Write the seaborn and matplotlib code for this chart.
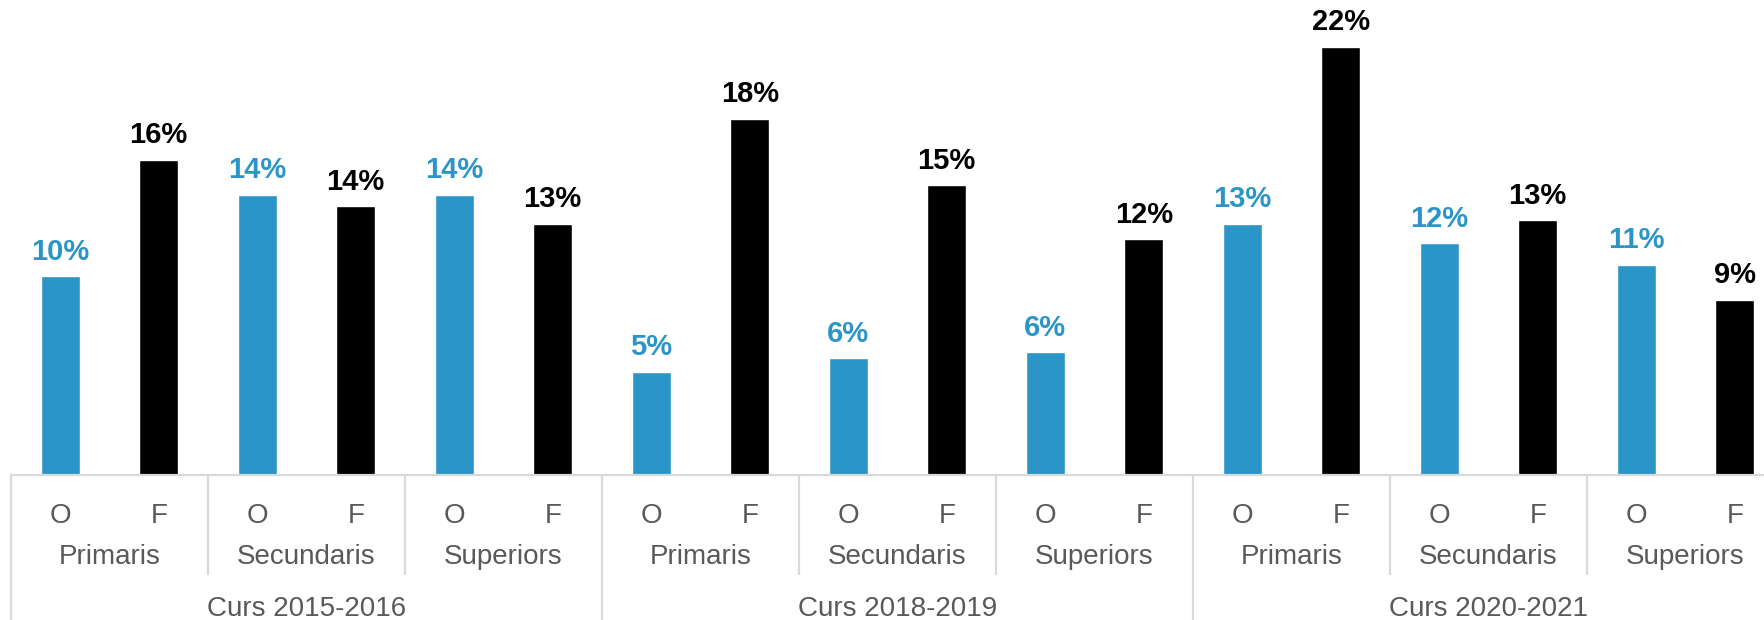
import matplotlib
matplotlib.use("Agg")
import matplotlib.pyplot as plt
import matplotlib.transforms as mtransforms
import numpy as np
import pandas as pd
import seaborn as sns

# ---- data ----
courses = ["Curs 2015-2016", "Curs 2018-2019", "Curs 2020-2021"]
levels = ["Primaris", "Secundaris", "Superiors"]
genders = ["O", "F"]
values_O = [10.2, 14.4, 14.4, 5.3, 6.0, 6.3, 12.9, 11.9, 10.8]
values_F = [16.2, 13.8, 12.9, 18.3, 14.9, 12.1, 22.0, 13.1, 9.0]

BLUE = "#2C95C7"
BLACK = "#000000"
GRAY = "#595959"
LINE = "#D9D9D9"

rows = []
k = 0
for c in courses:
    for l in levels:
        for g, vals in zip(genders, (values_O, values_F)):
            rows.append({"key": f"{c}|{l}|{g}", "course": c, "level": l,
                         "gender": g, "value": vals[k]})
        k += 1
df = pd.DataFrame(rows)
keys = list(df["key"])

sns.set_theme(style="white")
plt.rcParams["font.family"] = ["Liberation Sans", "DejaVu Sans"]

W, H = 1764, 620
fig = plt.figure(figsize=(W / 100, H / 100), dpi=100)
base_px = 145          # baseline height above figure bottom
ax_h_px = H - base_px
ax = fig.add_axes([11 / W, base_px / H, 1773 / W, ax_h_px / H])

sns.barplot(data=df, x="key", y="value", hue="gender", hue_order=genders,
            order=keys, palette={"O": BLUE, "F": BLACK}, dodge=False,
            width=0.4, saturation=1, legend=False, ax=ax)

ax.set_xlim(-0.5, len(keys) - 0.5)
ax.set_ylim(0, 24.4)

# value labels above bars
for container, g in zip(ax.containers, genders):
    ax.bar_label(container,
                 labels=[f"{v:.0f}%" for v in container.datavalues],
                 padding=7.5, fontsize=21, fontweight="bold",
                 color=BLUE if g == "O" else BLACK)

# axes styling
for s in ("left", "top", "right"):
    ax.spines[s].set_visible(False)
ax.spines["bottom"].set_color(LINE)
ax.spines["bottom"].set_linewidth(1.6)
ax.set_xticks([])
ax.set_yticks([])
ax.set_xlabel("")
ax.set_ylabel("")

# multi-level category axis
trans = mtransforms.blended_transform_factory(ax.transData, ax.transAxes)
px = 1.0 / ax_h_px
for i, row in df.iterrows():
    ax.text(i, -41 * px, row["gender"], transform=trans, ha="center",
            va="center", fontsize=20, color=GRAY, clip_on=False)
for j in range(len(courses) * len(levels)):
    ax.text(2 * j + 0.5, -82 * px, levels[j % len(levels)], transform=trans,
            ha="center", va="center", fontsize=20, color=GRAY, clip_on=False)
for j, c in enumerate(courses):
    ax.text(6 * j + 2.5, -134 * px, c, transform=trans, ha="center",
            va="center", fontsize=20, color=GRAY, clip_on=False)

for b in range(0, len(keys) + 1, 2):
    x = b - 0.5
    depth = base_px if b % 6 == 0 else 100
    ax.plot([x, x], [0, -depth * px], transform=trans, color=LINE,
            lw=1.6, clip_on=False, solid_capstyle="butt")

fig.savefig("out.png", dpi=100)
